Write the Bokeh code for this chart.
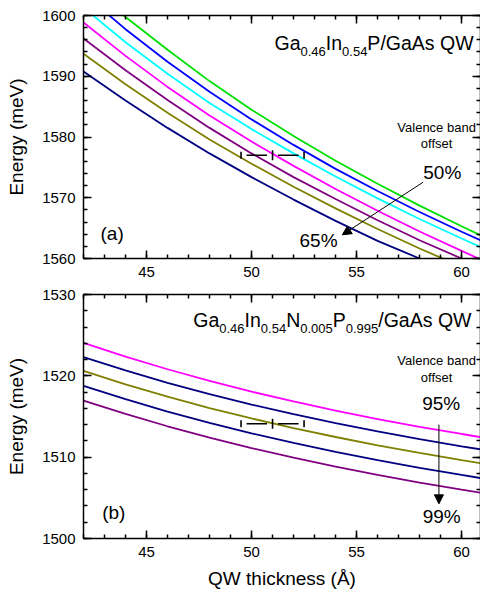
from bokeh.plotting import figure
from bokeh.layouts import column
from bokeh.models import LinearAxis, SingleIntervalTicker, Range1d, Label, Arrow, NormalHead
from bokeh.embed import file_html
from bokeh.resources import INLINE

FONT = "Liberation Sans"

# QW thickness (Angstrom)
thickness = [42, 44, 46, 48, 50, 52, 54, 56, 58, 60, 61]

# (a) Ga0.46In0.54P/GaAs QW transition energy (meV), valence band offset 50% ... 65%
gainp_green = [1605.55, 1599.75, 1594.35, 1589.2, 1584.5, 1580.15, 1576.1, 1572.3, 1568.7, 1565.3, 1563.65]
gainp_blue = [1603.6, 1597.75, 1592.4, 1587.45, 1582.9, 1578.7, 1574.75, 1571.1, 1567.65, 1564.4, 1562.85]
gainp_cyan = [1601.3, 1595.6, 1590.4, 1585.6, 1581.3, 1577.3, 1573.5, 1569.9, 1566.5, 1563.3, 1561.75]
gainp_magenta = [1598.85, 1593.35, 1588.25, 1583.55, 1579.25, 1575.25, 1571.45, 1567.85, 1564.45, 1561.25, 1559.7]
gainp_purple = [1596.2, 1591.0, 1586.1, 1581.5, 1577.3, 1573.4, 1569.8, 1566.3, 1563.0, 1560.0, 1558.55]
gainp_olive = [1593.7, 1588.7, 1584.0, 1579.6, 1575.6, 1571.8, 1568.25, 1564.85, 1561.65, 1558.65, 1557.2]
gainp_navy = [1590.8, 1586.0, 1581.5, 1577.3, 1573.4, 1569.7, 1566.2, 1562.9, 1560.0, 1557.2, 1555.85]

# (b) Ga0.46In0.54N0.005P0.995/GaAs QW, valence band offset 95% ... 99%
gainnp_magenta = [1524.05, 1522.37, 1520.81, 1519.37, 1518.05, 1516.85, 1515.73, 1514.69, 1513.73, 1512.85, 1512.43]
gainnp_navy_a = [1522.3, 1520.66, 1519.14, 1517.74, 1516.46, 1515.28, 1514.18, 1513.16, 1512.22, 1511.34, 1510.92]
gainnp_olive = [1520.6, 1518.96, 1517.44, 1516.04, 1514.76, 1513.58, 1512.48, 1511.46, 1510.52, 1509.64, 1509.22]
gainnp_navy_b = [1518.77, 1517.13, 1515.61, 1514.21, 1512.93, 1511.75, 1510.65, 1509.63, 1508.69, 1507.81, 1507.39]
gainnp_purple = [1516.96, 1515.32, 1513.8, 1512.4, 1511.12, 1509.94, 1508.84, 1507.82, 1506.88, 1506.0, 1505.58]

# measured QW thickness with its uncertainty (Angstrom) and the energy it sits at
err_center = 51.0
err_half = 1.5
err_energy_a = 1577.0
err_energy_b = 1514.1

X_RANGE = (42, 60.9)
FRAME_W = 397

# Arial / Liberation Sans advance widths (per 1000 em)
ADV = {'G': 778, 'a': 556, 'I': 278, 'n': 556, 'P': 667, '/': 278, 'A': 667, 's': 500,
       ' ': 278, 'Q': 778, 'W': 944, 'N': 722, '.': 278}
for d in "0123456789":
    ADV[d] = 556

# the rendered baseline sits this fraction of the font size below the anchor
BASELINE_LIFT = 0.38


def text_width(s, size):
    return sum(ADV[c] for c in s) * size / 1000.0


def make_panel(y_range, frame_h, top_border, bottom_border, show_xlabel):
    p = figure(frame_width=FRAME_W, frame_height=frame_h,
               x_range=Range1d(*X_RANGE), y_range=Range1d(*y_range),
               output_backend="svg", toolbar_location=None,
               min_border_left=83, min_border_right=0,
               min_border_top=top_border, min_border_bottom=bottom_border,
               x_axis_location=None, y_axis_location=None)
    p.xgrid.visible = False
    p.ygrid.visible = False
    p.outline_line_color = None
    p.background_fill_color = "white"
    p.border_fill_color = "white"

    xt = SingleIntervalTicker(interval=5, num_minor_ticks=5)
    yt = SingleIntervalTicker(interval=10, num_minor_ticks=5)

    def style(ax, labels):
        ax.axis_line_color = "black"
        ax.axis_line_width = 1.5
        ax.major_tick_line_color = "black"
        ax.minor_tick_line_color = "black"
        ax.major_tick_line_width = 1.5
        ax.minor_tick_line_width = 1.5
        ax.major_tick_in = 8
        ax.major_tick_out = 0
        ax.minor_tick_in = 4
        ax.minor_tick_out = 0
        if labels:
            ax.major_label_text_font = FONT
            ax.major_label_text_font_size = "15px"
            ax.major_label_text_color = "black"
            ax.major_label_standoff = 8
        else:
            # mirror axis: ticks only, no tick labels painted
            ax.major_label_text_color = None
            ax.major_label_text_font_size = "1px"
            ax.major_label_standoff = 0

    xb = LinearAxis(ticker=xt)
    style(xb, True)
    if show_xlabel:
        xb.axis_label = "QW thickness (Å)"
        xb.axis_label_text_font = FONT
        xb.axis_label_text_font_size = "19px"
        xb.axis_label_text_font_style = "normal"
        xb.axis_label_text_color = "black"
        xb.axis_label_standoff = 8
    p.add_layout(xb, "below")

    yl = LinearAxis(ticker=yt)
    style(yl, True)
    yl.axis_label = "Energy (meV)"
    yl.axis_label_text_font = FONT
    yl.axis_label_text_font_size = "19px"
    yl.axis_label_text_font_style = "normal"
    yl.axis_label_text_color = "black"
    yl.axis_label_standoff = 12
    p.add_layout(yl, "left")

    xa = LinearAxis(ticker=xt)
    style(xa, False)
    p.add_layout(xa, "above")

    yr = LinearAxis(ticker=yt)
    style(yr, False)
    p.add_layout(yr, "right")
    return p


def px_per_unit_x():
    return FRAME_W / (X_RANGE[1] - X_RANGE[0])


def add_formula(p, pieces, x_end, y_base, big, small, drop_px, px_y):
    """Draw a chemical formula with subscripts, right-aligned at x_end."""
    ppx = px_per_unit_x()
    total = sum(text_width(t, small if sub else big) for t, sub in pieces)
    x = x_end - total / ppx
    for t, sub in pieces:
        size = small if sub else big
        y = y_base - (drop_px if sub else 0) / px_y + BASELINE_LIFT * size / px_y
        p.add_layout(Label(x=x, y=y, text=t, text_font=FONT, text_font_size=f"{size}px",
                           text_color="black", text_baseline="alphabetic", text_align="left"))
        x += text_width(t, size) / ppx


def add_text(p, x, y, t, size, px_y, align="center"):
    y = y + BASELINE_LIFT * size / px_y
    p.add_layout(Label(x=x, y=y, text=t, text_font=FONT, text_font_size=f"{size}px",
                       text_color="black", text_baseline="alphabetic", text_align=align))


def add_error_bar(p, energy):
    gap = 5.5 / px_per_unit_x()
    x0 = [err_center - err_half + gap, err_center + gap]
    x1 = [err_center - gap, err_center + err_half - gap]
    p.segment(x0=x0, y0=[energy, energy], x1=x1, y1=[energy, energy],
              line_color="black", line_width=1.6)
    p.scatter(x=[err_center - err_half, err_center + err_half], y=[energy, energy],
              marker="dash", angle=1.5708, size=7, line_color="black", line_width=1.6)
    p.scatter(x=[err_center], y=[energy], marker="dash", angle=1.5708, size=10,
              line_color="black", line_width=1.6)


LW = 1.8

# ---------------- panel (a) ----------------
ya = (1560, 1600)
ha = 243
pa = make_panel(ya, ha, 15, 26, False)
py_a = ha / (ya[1] - ya[0])
for series, color in [(gainp_green, "#00e000"), (gainp_blue, "#0000ff"), (gainp_cyan, "#00ffff"),
                      (gainp_magenta, "#ff00ff"), (gainp_purple, "#800080"),
                      (gainp_olive, "#808000"), (gainp_navy, "#000080")]:
    pa.line(thickness, series, line_color=color, line_width=LW)
add_error_bar(pa, err_energy_a)
add_formula(pa, [("Ga", False), ("0.46", True), ("In", False), ("0.54", True), ("P/GaAs QW", False)],
            60.57, 1594.24, 19.5, 13, 6, py_a)
add_text(pa, 58.81, 1580.74, "Valence band", 13, py_a)
add_text(pa, 58.81, 1578.11, "offset", 13, py_a)
add_text(pa, 59.08, 1573.0, "50%", 19, py_a)
add_text(pa, 53.19, 1561.7, "65%", 19, py_a)
add_text(pa, 42.81, 1562.96, "(a)", 19, py_a, "left")
pa.add_layout(Arrow(end=NormalHead(size=9, fill_color="black", line_color="black"),
                    x_start=58.17, y_start=1572.56, x_end=54.32, y_end=1563.9,
                    line_color="black", line_width=1))

# ---------------- panel (b) ----------------
yb = (1500, 1530)
hb = 244
pb = make_panel(yb, hb, 10, 56, True)
py_b = hb / (yb[1] - yb[0])
for series, color in [(gainnp_magenta, "#ff00ff"), (gainnp_navy_a, "#000080"),
                      (gainnp_olive, "#808000"), (gainnp_navy_b, "#000080"),
                      (gainnp_purple, "#800080")]:
    pb.line(thickness, series, line_color=color, line_width=LW)
add_error_bar(pb, err_energy_b)
add_formula(pb, [("Ga", False), ("0.46", True), ("In", False), ("0.54", True), ("N", False),
                 ("0.005", True), ("P", False), ("0.995", True), ("/GaAs QW", False)],
            60.47, 1525.98, 19.5, 13, 6, py_b)
add_text(pb, 58.81, 1521.27, "Valence band", 13, py_b)
add_text(pb, 58.81, 1519.22, "offset", 13, py_b)
add_text(pb, 59.03, 1515.74, "95%", 19, py_b)
add_text(pb, 59.05, 1501.8, "99%", 19, py_b)
add_text(pb, 42.89, 1502.33, "(b)", 19, py_b, "left")
pb.add_layout(Arrow(end=NormalHead(size=9, fill_color="black", line_color="black"),
                    x_start=58.92, y_start=1514.0, x_end=58.92, y_end=1504.26,
                    line_color="black", line_width=1))

layout = column(pa, pb, spacing=0)
open("out.html", "w").write(file_html(layout, INLINE))
